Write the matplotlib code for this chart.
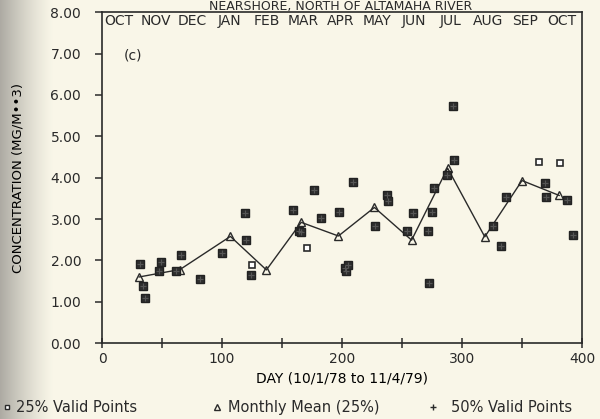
import numpy as np
import matplotlib.pyplot as plt
from matplotlib.lines import Line2D
from matplotlib.ticker import MultipleLocator, FormatStrFormatter

# days meeting the 50% valid-hours rule (also part of the 25% set)
day_50 = [31.7, 34.4, 35.8, 47.8, 48.9, 61.7, 65.6, 81.7, 100.0, 119.4,
          120.3, 124.4, 159.4, 164.4, 166.0, 176.7, 182.8, 197.8, 202.2, 203.3,
          205.3, 209.4, 227.8, 237.8, 238.6, 254.4, 259.4, 271.4, 272.2, 275.3,
          276.4, 287.2, 292.2, 293.3, 326.1, 332.2, 336.4, 369.2, 370.0, 387.2,
          392.5]
conc_50 = [1.91, 1.38, 1.10, 1.75, 1.96, 1.74, 2.14, 1.54, 2.19, 3.14,
           2.49, 1.65, 3.23, 2.72, 2.68, 3.70, 3.02, 3.18, 1.81, 1.75,
           1.89, 3.89, 2.82, 3.58, 3.43, 2.71, 3.14, 2.72, 1.46, 3.16,
           3.75, 4.07, 5.72, 4.43, 2.82, 2.34, 3.54, 3.88, 3.54, 3.46,
           2.61]

# days that only meet the 25% rule
day_25 = [125.3, 170.8, 364.4, 381.4]
conc_25 = [1.88, 2.31, 4.39, 4.35]

# monthly means of the 25% set
day_mean = [31, 65, 107, 137, 166, 197, 227, 258, 288, 319, 350, 381]
conc_mean = [1.60, 1.78, 2.58, 1.77, 2.92, 2.59, 3.28, 2.49, 4.23, 2.57, 3.93, 3.57]

months = ["OCT", "NOV", "DEC", "JAN", "FEB", "MAR", "APR",
          "MAY", "JUN", "JUL", "AUG", "SEP", "OCT"]

ink = "#2a2a2a"
paper = np.array([0.978, 0.968, 0.912])
shadow = np.array([0.68, 0.67, 0.64])

plt.rcParams["font.family"] = "DejaVu Sans"
plt.rcParams["text.color"] = ink
plt.rcParams["axes.edgecolor"] = ink
plt.rcParams["xtick.color"] = ink
plt.rcParams["ytick.color"] = ink

fig = plt.figure(figsize=(6, 4.19), dpi=100)
fig.patch.set_facecolor(paper)

# page background with the binding shadow on the left
bg = fig.add_axes([0, 0, 1, 1], zorder=-1)
cols = np.linspace(0, 1, 600)
shade = np.clip(1 - cols / 0.09, 0, 1) ** 1.3
img = paper[None, :] * (1 - shade[:, None]) + shadow[None, :] * shade[:, None]
bg.imshow(img[None, :, :], aspect="auto", extent=[0, 1, 0, 1])
bg.axis("off")

ax = fig.add_axes([0.17, 0.181, 0.80, 0.79])
ax.set_facecolor("none")

ax.plot(day_mean, conc_mean, color=ink, linewidth=1.0, zorder=2)
ax.plot(day_mean, conc_mean, linestyle="none", marker="^", markersize=5.5,
        markerfacecolor="none", markeredgecolor=ink, markeredgewidth=1.0, zorder=3)
ax.plot(day_50, conc_50, linestyle="none", marker="s", markersize=5.5,
        markerfacecolor="#2e2e2e", markeredgecolor="#222222", zorder=4)
ax.plot(day_50, conc_50, linestyle="none", marker="+", markersize=4.5,
        markeredgecolor="#555555", markeredgewidth=0.8, zorder=5)
ax.plot(day_25, conc_25, linestyle="none", marker="s", markersize=4.5,
        markerfacecolor="white", markeredgecolor=ink, markeredgewidth=1.2, zorder=4)

ax.set_xlim(0, 400)
ax.set_ylim(0, 8)
ax.xaxis.set_major_locator(MultipleLocator(100))
ax.xaxis.set_minor_locator(MultipleLocator(50))
ax.yaxis.set_major_locator(MultipleLocator(1))
ax.yaxis.set_major_formatter(FormatStrFormatter("%.2f"))
ax.tick_params(axis="x", which="both", direction="inout", length=7, width=1.1,
               labelsize=10, pad=3)
ax.tick_params(axis="y", direction="out", length=5, width=1.1,
               labelsize=10, pad=10)
for s in ax.spines.values():
    s.set_linewidth(1.2)

ax.set_xlabel("DAY (10/1/78 to 11/4/79)", fontsize=10, labelpad=4)
ax.set_ylabel("CONCENTRATION (MG/M\u2022\u20223)", fontsize=9.5, labelpad=19)

# month names across the top of the frame
for i, m in enumerate(months):
    ax.text(0.035 + i * 0.0769, 0.972, m, transform=ax.transAxes,
            ha="center", va="center", fontsize=10)
ax.text(0.045, 0.87, "(c)", transform=ax.transAxes, ha="left", va="center",
        fontsize=10)

fig.text(0.567, 0.999, "NEARSHORE, NORTH OF ALTAMAHA RIVER", ha="center",
         va="top", fontsize=9)

# legend row under the x label
ly = 0.028
fig.add_artist(Line2D([0.011], [ly], marker="s", markersize=3,
                      markerfacecolor="white", markeredgecolor=ink,
                      markeredgewidth=1.0, transform=fig.transFigure))
fig.text(0.027, ly, "25% Valid Points", va="center", fontsize=10.5)
fig.add_artist(Line2D([0.362], [ly], marker="^", markersize=4,
                      markerfacecolor="none", markeredgecolor=ink,
                      markeredgewidth=1.0, transform=fig.transFigure))
fig.text(0.380, ly, "Monthly Mean (25%)", va="center", fontsize=10.5)
fig.add_artist(Line2D([0.722], [ly], marker="+", markersize=5,
                      markeredgecolor=ink, markeredgewidth=1.0,
                      transform=fig.transFigure))
fig.text(0.752, ly, "50% Valid Points", va="center", fontsize=10.5)

fig.savefig("out.png", dpi=100, facecolor=fig.get_facecolor())
